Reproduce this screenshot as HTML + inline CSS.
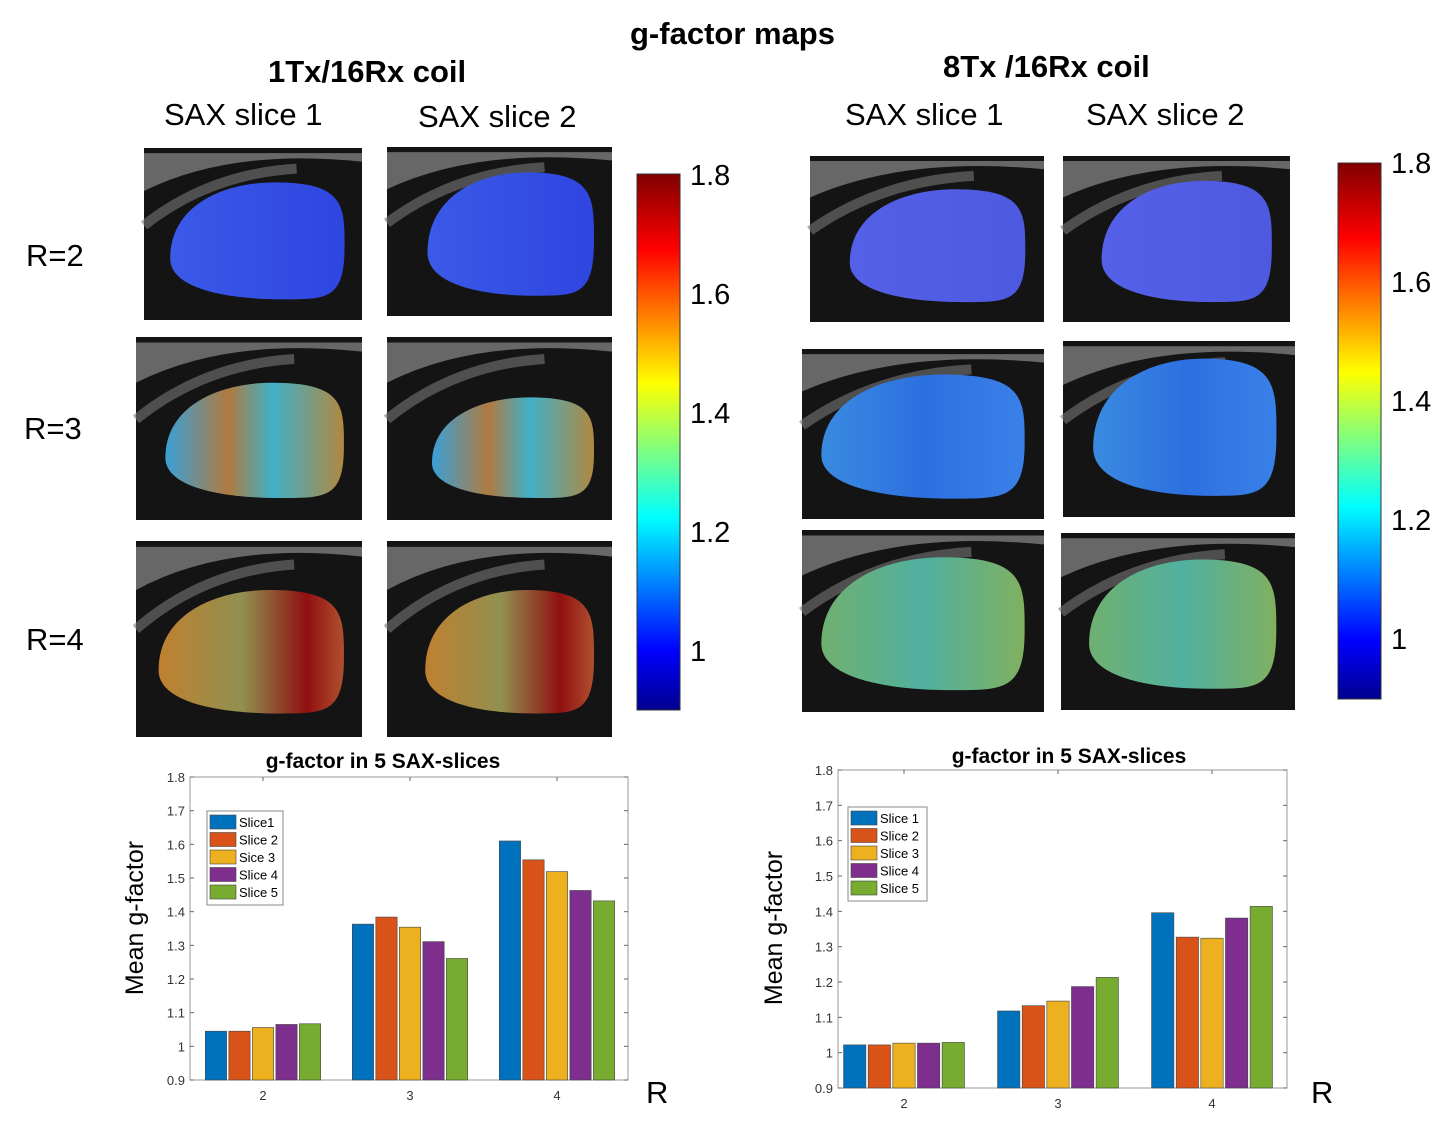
<!DOCTYPE html>
<html><head><meta charset="utf-8"><style>
html,body{margin:0;padding:0;background:#fff;}
body{width:1453px;height:1136px;position:relative;overflow:hidden;font-family:"Liberation Sans",sans-serif;}
.t{position:absolute;white-space:nowrap;color:#000;}
.b{font-weight:bold;}
</style></head><body>
<div class="t b" style="left:630px;top:16px;font-size:31px;">g-factor maps</div>
<div class="t b" style="left:268px;top:54px;font-size:31px;">1Tx/16Rx coil</div>
<div class="t b" style="left:943px;top:49px;font-size:31px;">8Tx /16Rx coil</div>
<div class="t" style="left:164px;top:97px;font-size:31px;">SAX slice 1</div>
<div class="t" style="left:418px;top:99px;font-size:31px;">SAX slice 2</div>
<div class="t" style="left:845px;top:97px;font-size:31px;">SAX slice 1</div>
<div class="t" style="left:1086px;top:97px;font-size:31px;">SAX slice 2</div>
<div class="t" style="left:26px;top:238px;font-size:31px;">R=2</div>
<div class="t" style="left:24px;top:411px;font-size:31px;">R=3</div>
<div class="t" style="left:26px;top:622px;font-size:31px;">R=4</div>

<svg id="maps" width="1453" height="1136" style="position:absolute;left:0;top:0;">
<defs>
<linearGradient id="jet" x1="0" y1="1" x2="0" y2="0">
<stop offset="0" stop-color="#00008f"/><stop offset="0.11" stop-color="#0000ff"/><stop offset="0.36" stop-color="#00ffff"/><stop offset="0.61" stop-color="#ffff00"/><stop offset="0.86" stop-color="#ff0000"/><stop offset="1" stop-color="#800000"/>
</linearGradient>
<linearGradient id="g1" x1="0" x2="1"><stop offset="0" stop-color="#3a5ae8"/><stop offset="1" stop-color="#2f45e0"/></linearGradient>
<linearGradient id="g8a" x1="0" x2="1"><stop offset="0" stop-color="#5560e8"/><stop offset="1" stop-color="#4d5ae0"/></linearGradient>
<linearGradient id="g3" x1="0" x2="1"><stop offset="0" stop-color="#3aa0d8"/><stop offset="0.35" stop-color="#b07a40"/><stop offset="0.6" stop-color="#40b0c8"/><stop offset="1" stop-color="#b08840"/></linearGradient>
<linearGradient id="g4" x1="0" x2="1"><stop offset="0" stop-color="#c08030"/><stop offset="0.45" stop-color="#909050"/><stop offset="0.8" stop-color="#901010"/><stop offset="1" stop-color="#b05030"/></linearGradient>
<linearGradient id="g83" x1="0" x2="1"><stop offset="0" stop-color="#3a8ae0"/><stop offset="0.5" stop-color="#2c70e0"/><stop offset="1" stop-color="#3a80e8"/></linearGradient>
<linearGradient id="g84" x1="0" x2="1"><stop offset="0" stop-color="#70b070"/><stop offset="0.5" stop-color="#50b0a0"/><stop offset="1" stop-color="#80b060"/></linearGradient>
</defs>
</svg>

<div class="t" style="left:690px;top:160px;font-size:29px;">1.8</div>
<div class="t" style="left:690px;top:279px;font-size:29px;">1.6</div>
<div class="t" style="left:690px;top:398px;font-size:29px;">1.4</div>
<div class="t" style="left:690px;top:517px;font-size:29px;">1.2</div>
<div class="t" style="left:690px;top:636px;font-size:29px;">1</div>
<div class="t" style="left:1391px;top:148px;font-size:29px;">1.8</div>
<div class="t" style="left:1391px;top:267px;font-size:29px;">1.6</div>
<div class="t" style="left:1391px;top:386px;font-size:29px;">1.4</div>
<div class="t" style="left:1391px;top:505px;font-size:29px;">1.2</div>
<div class="t" style="left:1391px;top:624px;font-size:29px;">1</div>

<svg id="charts" width="1453" height="1136" style="position:absolute;left:0;top:0;font-family:'Liberation Sans',sans-serif;"></svg>

<script>
// ---- chart data ----
const categories = ["2","3","4"];
const yTicks = [0.9,1,1.1,1.2,1.3,1.4,1.5,1.6,1.7,1.8];
const yTickLabels = ["0.9","1","1.1","1.2","1.3","1.4","1.5","1.6","1.7","1.8"];
const left_slice1 = [1.045,1.363,1.610];
const left_slice2 = [1.045,1.384,1.554];
const left_slice3 = [1.056,1.354,1.519];
const left_slice4 = [1.065,1.311,1.463];
const left_slice5 = [1.067,1.261,1.432];
const right_slice1 = [1.022,1.118,1.396];
const right_slice2 = [1.022,1.133,1.327];
const right_slice3 = [1.027,1.146,1.324];
const right_slice4 = [1.027,1.187,1.381];
const right_slice5 = [1.029,1.213,1.414];
const leftLegend = ["Slice1","Slice 2","Sice 3","Slice 4","Slice 5"];
const rightLegend = ["Slice 1","Slice 2","Slice 3","Slice 4","Slice 5"];

const NS="http://www.w3.org/2000/svg";
const colors=["#0072bd","#d95319","#edb120","#7e2f8e","#77ac30"];
function mk(parent,tag,attrs){const e=document.createElementNS(NS,tag);for(const k in attrs)e.setAttribute(k,attrs[k]);parent.appendChild(e);return e;}

// ---- MRI panels ----
const maps=document.getElementById('maps');
const panels=[
 [144,148,218,172,'g1',0.12,0.2],[387,147,225,169,'g1',0.18,0.15],
 [136,337,226,183,'g3',0.13,0.25],[387,337,225,183,'g3',0.2,0.33],
 [136,541,226,196,'g4',0.1,0.25],[387,541,225,196,'g4',0.17,0.25],
 [810,156,234,166,'g8a',0.17,0.2],[1063,156,227,166,'g8a',0.17,0.15],
 [802,349,242,170,'g83',0.08,0.15],[1063,341,232,176,'g83',0.13,0.1],
 [802,530,242,182,'g84',0.08,0.15],[1061,533,234,177,'g84',0.12,0.15]
];
panels.forEach((p,i)=>{
 const [x,y,w,h,g,lx,ty]=p;
 const grp=mk(maps,'g',{});
 
 
 mk(grp,'rect',{x:x,y:y,width:w,height:h,fill:'#141414'});
 mk(grp,'path',{d:`M${x} ${y+h*0.25} Q${x+w*0.4} ${y} ${x+w} ${y+h*0.08} L${x+w} ${y+h*0.03} L${x} ${y+h*0.03} Z`,fill:'#8a8a8a',opacity:0.7});
 mk(grp,'path',{d:`M${x} ${y+h*0.45} Q${x+w*0.3} ${y+h*0.15} ${x+w*0.7} ${y+h*0.12}`,stroke:'#777',"stroke-width":10,fill:'none',opacity:0.6});
 const x0=x+w*lx,x1=x+w*0.92,y0=y+h*ty,y1=y+h*0.88;
 const d=`M${x0} ${y0+(y1-y0)*0.65} C${x0} ${y0+(y1-y0)*0.2} ${x0+(x1-x0)*0.3} ${y0} ${x0+(x1-x0)*0.6} ${y0} C${x1} ${y0} ${x1} ${y0+(y1-y0)*0.2} ${x1} ${y0+(y1-y0)*0.55} C${x1} ${y1} ${x1-(x1-x0)*0.1} ${y1} ${x0+(x1-x0)*0.65} ${y1} C${x0+(x1-x0)*0.3} ${y1} ${x0} ${y0+(y1-y0)*0.9} ${x0} ${y0+(y1-y0)*0.65} Z`;
 mk(grp,'path',{d:d,fill:`url(#${g})`});
});
const cb1=mk(maps,'rect',{x:637,y:174,width:43,height:536,fill:'url(#jet)',stroke:'#333'});


const cb2=mk(maps,'rect',{x:1338,y:163,width:43,height:536,fill:'url(#jet)',stroke:'#333'});



// ---- bar charts ----
const charts=document.getElementById('charts');
function drawChart(cfg){
 const {L,R,T,B,C,GW,series,legend,title,titleX,titleY,legX,legY,legW,prefix,rX,rY,ylX,ylY}=cfg;
 const yScale=v=>B-(v-0.9)/(0.9)*(B-T);
 const gw=GW;
 const xCenter=i=>C+gw*(i-1);
 const g=mk(charts,'g',{});
 
 
 const t=mk(g,'text',{x:titleX,y:titleY,"font-size":21,"font-weight":"bold","text-anchor":"middle"});t.textContent=title;
 
 
 mk(g,'rect',{x:L,y:T,width:R-L,height:B-T,fill:'#fff',stroke:'#999'});
 yTicks.forEach((v,i)=>{
  const y=yScale(v);
  mk(g,'line',{x1:L,x2:L+4,y1:y,y2:y,stroke:'#666'});
  mk(g,'line',{x1:R-4,x2:R,y1:y,y2:y,stroke:'#666'});
  const tl=mk(g,'text',{x:L-5,y:y+5,"font-size":13,"text-anchor":"end",fill:'#333'});tl.textContent=yTickLabels[i];
  
  
 });
 const bw=gw*0.145, step=gw*0.16;
 categories.forEach((c,i)=>{
  const cx=xCenter(i);
  mk(g,'line',{x1:cx,x2:cx,y1:B,y2:B-4,stroke:'#666'});
  mk(g,'line',{x1:cx,x2:cx,y1:T,y2:T+4,stroke:'#666'});
  const tl=mk(g,'text',{x:cx,y:B+20,"font-size":13,"text-anchor":"middle",fill:'#333'});tl.textContent=c;
  
  
  series.forEach((s,j)=>{
   const bx=cx+(j-2)*step-bw/2, y=yScale(s[i]);
   const r=mk(g,'rect',{x:bx,y:y,width:bw,height:B-y,fill:colors[j],stroke:'#444',"stroke-width":0.6});
   
   
  });
 });
 const lg=mk(g,'g',{});
 
 
 mk(lg,'rect',{x:legX,y:legY,width:legW,height:94,fill:'#fff',stroke:'#888'});
 legend.forEach((n,j)=>{
  const yy=legY+4+j*17.5;
  mk(lg,'rect',{x:legX+3,y:yy,width:26,height:14,fill:colors[j],stroke:'#444',"stroke-width":0.6});
  const tx=mk(lg,'text',{x:legX+32,y:yy+12,"font-size":13});tx.textContent=n;
  
  
 });
 const yl=mk(g,'text',{x:ylX,y:ylY,"font-size":25,"text-anchor":"middle",transform:`rotate(-90 ${ylX} ${ylY})`});yl.textContent='Mean g-factor';
 
 
 const rl=mk(g,'text',{x:rX,y:rY,"font-size":31});rl.textContent='R';
 
 
}
drawChart({L:190,R:628,T:777,B:1080,C:410,GW:147,series:[left_slice1,left_slice2,left_slice3,left_slice4,left_slice5],legend:leftLegend,title:'g-factor in 5 SAX-slices',titleX:383,titleY:768,legX:207,legY:811,legW:76,prefix:'left',rX:646,rY:1103,ylX:143,ylY:918});
drawChart({L:838,R:1287,T:770,B:1088,C:1058,GW:154,series:[right_slice1,right_slice2,right_slice3,right_slice4,right_slice5],legend:rightLegend,title:'g-factor in 5 SAX-slices',titleX:1069,titleY:763,legX:848,legY:807,legW:79,prefix:'right',rX:1311,rY:1103,ylX:782,ylY:928});
</script>
</body></html>
